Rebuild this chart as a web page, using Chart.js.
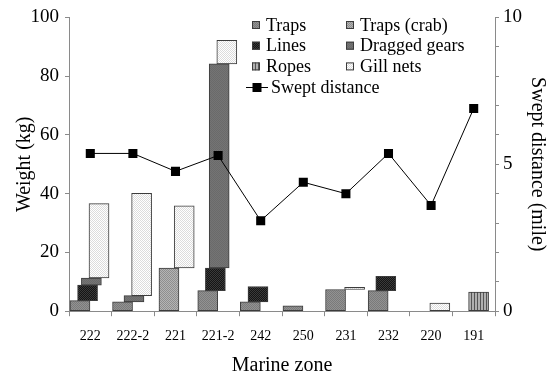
<!DOCTYPE html>
<html>
<head>
<meta charset="utf-8">
<script src="https://cdn.jsdelivr.net/npm/chart.js@4/dist/chart.umd.min.js"></script>
<style>
html,body{margin:0;padding:0;background:#fff;}
#wrap{width:554px;height:380px;position:relative;}
</style>
</head>
<body>
<div id="wrap"><canvas id="c" width="554" height="380"></canvas></div>
<script>
// ---- data ----
const zones = ['222','222-2','221','221-2','242','250','231','232','220','191'];
const traps      = [3.6, 3.2, 0,    7.0, 3.2, 1.8, 7.4, 7.0, 0,   0];
const trapsCrab  = [0,   0,   14.7, 0,   0,   0,   0,   0,   0,   0];
const lines      = [5.3, 0,   0,    7.7, 5.2, 0,   0,   4.9, 0,   0];
const dragged    = [2.4, 2.1, 0,    69.5,0,   0,   0,   0,   0,   0];
const ropes      = [0,   0,   0,    0,   0,   0,   0,   0,   0,   6.5];
const gillNets   = [25.3,34.8,21.2, 8.0, 0,   0,   0.7, 0,   2.8, 0];
const swept      = [5.37,5.37,4.76, 5.3, 3.08,4.39,4.0, 5.37,3.6, 6.9];
const weightTicks = [0, 20, 40, 60, 80, 100];
const sweptTickLabels = [0, 5, 10];

const seriesNames = ['Traps','Traps (crab)','Lines','Dragged gears','Ropes','Gill nets'];
const seriesValues = [traps, trapsCrab, lines, dragged, ropes, gillNets];

// ---- patterns ----
function makePattern(w, h, draw) {
  const c = document.createElement('canvas');
  c.width = w; c.height = h;
  const g = c.getContext('2d');
  draw(g);
  return g.createPattern(c, 'repeat');
}
function dots(base, dot) {
  return makePattern(2, 2, g => {
    g.fillStyle = base; g.fillRect(0,0,2,2);
    g.fillStyle = dot; g.fillRect(0,0,1,1); g.fillRect(1,1,1,1);
  });
}
const fills = [
  dots('#929292', '#7a7a7a'),          // Traps
  dots('#b4b4b4', '#8e8e8e'),          // Traps (crab)
  dots('#141414', '#3a3a3a'),          // Lines
  dots('#747474', '#6a6a6a'),          // Dragged gears
  makePattern(3, 2, g => {             // Ropes
    g.fillStyle = '#b0b0b0'; g.fillRect(0,0,3,2);
    g.fillStyle = '#555'; g.fillRect(0,0,1,2);
  }),
  dots('#ffffff', '#dcdcdc')           // Gill nets
];

// ---- build floating stacked bars with per-series horizontal offset ----
const slotStart = -0.243, slotStep = 0.0895;
const cum = zones.map(() => 0);
const barDatasets = seriesValues.map((vals, s) => {
  const pts = [];
  vals.forEach((v, i) => {
    const base = cum[i];
    if (v > 0) pts.push({x: i + slotStart + s * slotStep, y: [base, base + v]});
    cum[i] = base + v;
  });
  return {
    type: 'bar', label: seriesNames[s], data: pts,
    backgroundColor: fills[s], borderColor: '#3c3c3c', borderWidth: 1,
    borderSkipped: false, barThickness: 20, grouped: false,
    xAxisID: 'x', yAxisID: 'y', order: 2
  };
});

const lineDataset = {
  type: 'line', label: 'Swept distance',
  data: swept.map((v, i) => ({x: i, y: v})),
  borderColor: '#000', borderWidth: 1, backgroundColor: '#000',
  pointStyle: 'rect', pointRadius: 6.4, pointBorderWidth: 0,
  pointBackgroundColor: '#000', tension: 0,
  xAxisID: 'x', yAxisID: 'y2', order: 0
};

const serif = '"Liberation Serif", "Times New Roman", serif';
const axisGray = '#8a8a8a';

const legendPlugin = {
  id: 'customLegend',
  afterDraw(chart) {
    const ctx = chart.ctx;
    ctx.save();
    ctx.font = '18px ' + serif;
    ctx.textBaseline = 'middle';
    ctx.fillStyle = '#000';
    const cols = [{sx: 252, tx: 266}, {sx: 346, tx: 360}];
    const rows = [25, 45.7, 66.4];
    for (let s = 0; s < 6; s++) {
      const col = cols[s % 2], y = rows[Math.floor(s / 2)];
      ctx.fillStyle = fills[s];
      ctx.fillRect(col.sx, y - 4, 8, 8);
      ctx.strokeStyle = '#3c3c3c'; ctx.lineWidth = 1;
      ctx.strokeRect(col.sx + 0.5, y - 3.5, 7, 7);
      ctx.fillStyle = '#000';
      ctx.fillText(seriesNames[s], col.tx, y + 1);
    }
    const ly = 87;
    ctx.strokeStyle = '#000'; ctx.lineWidth = 1;
    ctx.beginPath(); ctx.moveTo(246, ly + 0.5); ctx.lineTo(268, ly + 0.5); ctx.stroke();
    ctx.fillRect(252.5, ly - 4, 9, 9);
    ctx.fillText('Swept distance', 271, ly + 1);
    ctx.restore();
  }
};

new Chart(document.getElementById('c'), {
  type: 'bar',
  data: { labels: zones, datasets: [...barDatasets, lineDataset] },
  options: {
    responsive: false, animation: false,
    layout: { padding: { top: 6, right: 0, left: 0, bottom: 0 } },
    plugins: { legend: { display: false }, tooltip: { enabled: false } },
    scales: {
      x: { type: 'linear', min: -0.5, max: 9.5, display: false, offset: false, grid: { offset: false } },
      xc: {
        type: 'category', labels: zones, position: 'bottom', offset: true,
        grid: { offset: true, drawOnChartArea: false, drawTicks: true, tickLength: 5, color: axisGray },
        border: { color: axisGray },
        ticks: { font: { family: serif, size: 14 }, color: '#000', padding: 12, maxRotation: 0, autoSkip: false },
        title: { display: true, text: 'Marine zone', font: { family: serif, size: 20 }, color: '#000', padding: { top: -3, bottom: 2 } }
      },
      y: {
        position: 'left', min: 0, max: 100,
        afterBuildTicks: sc => { sc.ticks = weightTicks.map(v => ({value: v})); },
        grid: { drawOnChartArea: false, drawTicks: true, tickLength: 4, color: axisGray },
        border: { color: axisGray },
        ticks: { font: { family: serif, size: 19 }, color: '#000', padding: 6 },
        title: { display: true, text: 'Weight (kg)', font: { family: serif, size: 20 }, color: '#000', padding: { top: 12.5, bottom: -12 } }
      },
      y2: {
        position: 'right', min: 0, max: 10,
        ticks: { stepSize: 1, font: { family: serif, size: 19 }, color: '#000', padding: 4,
                 callback: v => sweptTickLabels.includes(v) ? String(v) : '' },
        grid: { drawOnChartArea: false, drawTicks: true, tickLength: 4, color: axisGray },
        border: { color: axisGray },
        title: { display: true, text: 'Swept distance (mile)', font: { family: serif, size: 20 }, color: '#000', padding: { top: 5, bottom: -1 } }
      }
    }
  },
  plugins: [legendPlugin]
});
</script>
</body>
</html>
